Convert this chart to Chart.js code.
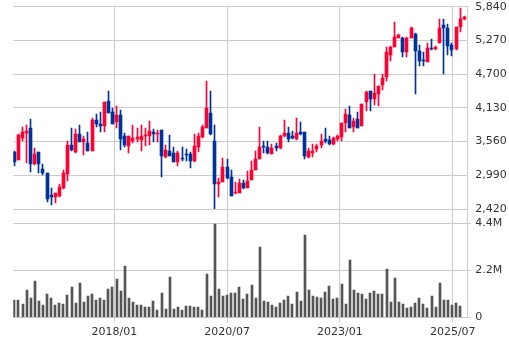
<!DOCTYPE html>
<html>
<head>
<meta charset="utf-8">
<script src="https://cdn.jsdelivr.net/npm/chart.js@4"></script>
<style>
  html, body { margin: 0; padding: 0; background: #fff; }
  canvas { display: block; }
</style>
</head>
<body>
<canvas id="chart" width="509" height="342"></canvas>
<script>
// Candle prices (yen), one entry per period, oldest first
const openPrices = [
  3379,3249,3627,3711,3790,3176,3379,3097,3030,2663,
  2629,2641,2770,3018,3497,3379,3689,3559,3531,3407,
  3925,3858,3824,4250,4060,3897,4010,3655,3486,3570,
  3604,3587,3655,3655,3722,3690,3756,3294,3401,3362,
  3210,3277,3351,3351,3232,3474,3632,3796,4038,3570,
  2838,2883,3136,2968,2686,2697,2866,2782,2911,3080,
  3266,3491,3469,3351,3491,3458,3655,3700,3660,3598,
  3728,3717,3294,3373,3435,3503,3604,3587,3514,3604,
  3643,3869,4010,3812,3942,3829,4224,4410,4274,4359,
  4517,4657,5024,5164,5316,5316,5069,5316,5378,5097,
  4939,4911,5148,5125,5232,5531,5474,5193,5120,5491,5626
];
const highPrices = [
  3406,3680,3812,3841,3942,3446,3385,3182,3035,2776,
  2695,2844,3080,3570,3796,3773,3841,3655,3722,3965,
  4026,4060,4235,4421,4122,4162,4094,3711,3660,3835,
  3784,3841,3784,3908,3779,3756,3760,3503,3672,3474,
  3401,3474,3429,3390,3689,3700,3841,4590,4421,3841,
  2939,3277,3266,3080,2883,2928,2911,3063,3232,3401,
  3812,3576,3576,3520,3531,3672,3925,3801,3745,3953,
  3891,3722,3458,3514,3514,3689,3784,3660,3645,3672,
  3880,4105,4162,3953,4066,4195,4421,4415,4702,4505,
  4702,5164,5170,5587,5378,5333,5320,5491,5390,5193,
  5069,5221,5288,5176,5632,5632,5547,5232,5500,5812,5688
];
const lowPrices = [
  3153,3240,3570,3204,3052,3170,3024,3001,2545,2494,
  2517,2630,2753,2894,3401,3362,3555,3334,3405,3400,
  3807,3728,3728,4045,3850,3784,3418,3474,3373,3542,
  3559,3401,3486,3503,3559,3559,2967,3289,3320,3218,
  3153,3232,3232,3120,3210,3390,3615,3790,3672,2421,
  2629,2880,2928,2640,2680,2686,2759,2778,2905,3075,
  3260,3373,3351,3345,3407,3435,3638,3559,3598,3590,
  3677,3266,3290,3305,3390,3446,3531,3503,3510,3570,
  3576,3728,3790,3728,3790,3820,4077,4077,4179,4162,
  4432,4584,4922,5160,5305,4995,4995,5310,4364,4843,
  4843,4905,5108,5108,5221,4702,5024,5012,5110,5407,5620
];
const closePrices = [
  3221,3672,3722,3745,3176,3351,3176,3035,2596,2629,
  2691,2787,3024,3503,3418,3689,3559,3604,3407,3925,
  3852,3824,4229,4049,3852,4010,3604,3508,3655,3615,
  3643,3660,3672,3739,3694,3700,3322,3418,3322,3221,
  3362,3260,3334,3238,3486,3660,3807,4122,3689,2838,
  2883,3136,2951,2646,2714,2855,2782,2894,3080,3266,
  3474,3463,3373,3458,3446,3660,3711,3598,3615,3711,
  3689,3322,3401,3407,3491,3576,3570,3520,3627,3655,
  3869,4027,3796,3914,3796,4190,4398,4274,4376,4500,
  4629,5080,5164,5333,5361,5069,5316,5474,5097,4922,
  4922,5136,5131,5164,5474,5474,5181,5108,5491,5626,5660
];
// Traded volume (shares) per period; the latest period has no bar yet
const volumes = [
  810000,810000,620000,1280000,900000,1700000,760000,580000,1090000,900000,
  580000,670000,620000,1040000,1420000,670000,1610000,720000,1000000,1090000,
  810000,900000,810000,1320000,1420000,1790000,1230000,2400000,900000,720000,
  580000,580000,480000,480000,760000,340000,1140000,390000,1890000,390000,
  480000,340000,530000,530000,480000,480000,340000,2030000,1000000,4370000,
  1320000,1000000,1040000,1140000,1140000,1420000,860000,1090000,1510000,900000,
  3290000,760000,720000,580000,480000,670000,810000,1000000,620000,1180000,
  760000,3850000,1280000,1000000,950000,900000,1180000,1470000,860000,900000,
  1560000,620000,2680000,1280000,1140000,1090000,860000,1140000,1230000,1090000,
  1090000,2260000,720000,1840000,720000,620000,440000,480000,670000,900000,
  620000,440000,1000000,480000,1610000,810000,810000,580000,670000,530000,null
];

// Axis ticks
const priceTicks = [2420, 2990, 3560, 4130, 4700, 5270, 5840];
const volumeTicks = [0, 2200000, 4400000];
const volumeTickLabels = ['0', '2.2M', '4.4M'];
const periodTicks = [24.45, 52.05, 79.6, 107.2];
const periodTickLabels = ['2018/01', '2020/07', '2023/01', '2025/07'];

const UP = '#ff0033';
const DOWN = '#003399';
const VOL = '#555555';
const GRID = '#cccccc';
const TEXT = '#333333';
const FONT = { family: 'DejaVu Sans', size: 11 };

const idx = openPrices.map((_, i) => i);
const candleColor = idx.map(i => closePrices[i] >= openPrices[i] ? UP : DOWN);

const wicks = idx.map(i => ({ x: i, y: [lowPrices[i], highPrices[i]] }));
const bodies = idx.map(i => ({ x: i, y: [openPrices[i], closePrices[i]] }));
const volumeBars = idx.map(i => ({ x: i, y: volumes[i] }));

// Snap bar edges to whole pixels so thin wicks and bodies stay sharp
const crispBars = {
  id: 'crispBars',
  afterDatasetsUpdate(chart) {
    chart.data.datasets.forEach((ds, i) => {
      chart.getDatasetMeta(i).data.forEach(el => {
        if (!isFinite(el.x) || !isFinite(el.y)) return;
        const half = el.width / 2;
        el.x = Math.round(el.x - half) + half;
        let top = Math.round(el.y);
        const base = Math.round(el.base);
        if (top === base) top -= 1;
        el.y = top;
        el.base = base;
      });
    });
  }
};

new Chart(document.getElementById('chart'), {
  type: 'bar',
  data: {
    datasets: [
      { data: wicks, yAxisID: 'y', backgroundColor: candleColor, barThickness: 1, grouped: false, order: 2 },
      { data: bodies, yAxisID: 'y', backgroundColor: candleColor, barThickness: 3, grouped: false, order: 1 },
      { data: volumeBars, yAxisID: 'yv', backgroundColor: VOL, barThickness: 2, grouped: false, order: 3 }
    ]
  },
  options: {
    responsive: false,
    animation: false,
    events: [],
    layout: { padding: { left: 13.3, top: 6.7, right: 0, bottom: 0 } },
    plugins: { legend: { display: false }, tooltip: { enabled: false } },
    scales: {
      x: {
        type: 'linear',
        min: -0.25,
        max: 110.85,
        offset: false,
        afterBuildTicks: s => { s.ticks = periodTicks.map(v => ({ value: v })); },
        ticks: {
          autoSkip: false, maxRotation: 0, padding: 3, color: TEXT, font: FONT,
          callback: v => periodTickLabels[periodTicks.indexOf(v)]
        },
        grid: { color: GRID, tickLength: 5, offset: false },
        border: { display: false },
        afterFit: s => { s.height = 24.5; }
      },
      // price pane (top)
      y: {
        type: 'linear',
        position: 'right',
        stack: 'panes',
        stackWeight: 202.3,
        min: 2420,
        max: 5840,
        afterBuildTicks: s => { s.ticks = priceTicks.map(v => ({ value: v })); },
        ticks: { padding: 7.5, color: TEXT, font: FONT, callback: v => v.toLocaleString('en-US') },
        grid: { color: GRID, drawTicks: false },
        border: { color: GRID },
        afterFit: s => { s.width = 41.3; s.paddingTop = 0; s.paddingBottom = 0; }
      },
      // volume pane (bottom)
      yv: {
        type: 'linear',
        position: 'right',
        stack: 'panes',
        stackWeight: 108.5,
        min: 0,
        max: 5080000,
        afterBuildTicks: s => { s.ticks = volumeTicks.map(v => ({ value: v })); },
        ticks: { padding: 4.5, color: TEXT, font: FONT, callback: v => volumeTickLabels[volumeTicks.indexOf(v)] },
        grid: { color: GRID, tickLength: 3 },
        border: { color: GRID },
        afterFit: s => { s.width = 41.3; s.paddingTop = 0; s.paddingBottom = 0; }
      }
    }
  },
  plugins: [crispBars]
});
</script>
</body>
</html>
